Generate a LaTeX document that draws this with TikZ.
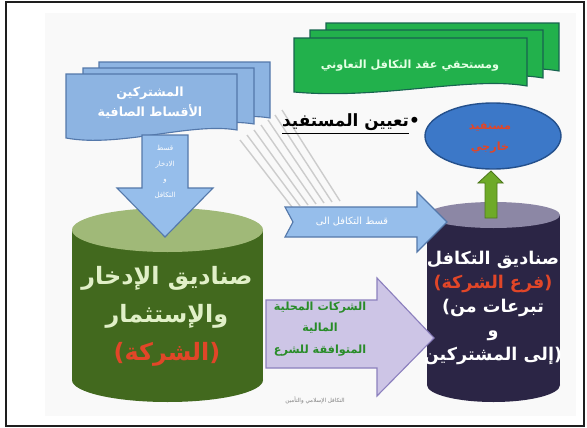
\documentclass[tikz,border=0pt]{standalone}
\usepackage{fontspec}
\setmainfont{DejaVu Sans}
\newfontfamily\arabicfont[Script=Arabic]{DejaVu Sans}
\TeXXeTstate=1
\definecolor{framegray}{RGB}{30,30,30}
\definecolor{paper}{RGB}{249,249,249}
\definecolor{bngreen}{RGB}{34,177,76}
\definecolor{bngreenedge}{RGB}{24,100,80}
\definecolor{bnblue}{RGB}{141,180,226}
\definecolor{bnblueedge}{RGB}{84,120,170}
\definecolor{arrblue}{RGB}{150,190,235}
\definecolor{cylgreen}{RGB}{66,105,30}
\definecolor{cylgreentop}{RGB}{160,185,120}
\definecolor{cylgreentext}{RGB}{225,240,200}
\definecolor{cylnavy}{RGB}{43,37,69}
\definecolor{cylnavytop}{RGB}{140,135,165}
\definecolor{arrpurple}{RGB}{205,197,230}
\definecolor{arrpurpleedge}{RGB}{140,128,190}
\definecolor{ellblue}{RGB}{60,120,200}
\definecolor{ellblueedge}{RGB}{36,80,140}
\definecolor{upgreen}{RGB}{110,170,40}
\definecolor{txtred}{RGB}{225,70,40}
\definecolor{txtgreen}{RGB}{40,140,40}
\usetikzlibrary{arrows.meta,positioning}
\newcommand{\ar}[1]{\hbox{\beginR#1\endR}}

\begin{document}
\begin{tikzpicture}[x=0.025cm,y=-0.025cm,
  artext/.style={align=center,inner sep=0pt},
  hatch/.style={draw=gray!40,line width=1pt}]
  \useasboundingbox (0,0) rectangle (587,428);

  %% Paper and frame
  \fill[paper] (45,13) rectangle (576,416);
  \draw[line width=1.2pt,framegray] (6,2) rectangle (584,426);

  %% Stripes from the premium sheets down to the arrow
  \foreach \k in {0,...,6}
    \draw[hatch] (240+7*\k,140-5*\k) -- (292+8*\k,207-\k);

  %% Premium sheets (three, stacked)
  \foreach \dx/\dy in {33/-12,17/-6,0/0}
    \filldraw[fill=bnblue,draw=bnblueedge,line width=0.8pt,shift={(\dx,\dy)}]
      (66,74) -- (237,74) -- (237,130) .. controls (190,122) and (120,148) .. (66,138) -- cycle;
  \node[artext,font=\arabicfont\bfseries\fontsize{9}{14}\selectfont,text=white]
    (prem) at (150,103) {\ar{المشتركين}\\\ar{الأقساط الصافية}};

  %% Savings fund (green cylinder)
  \fill[cylgreen] (72,230) rectangle (263,380);
  \fill[cylgreen] (167.5,380) ellipse[x radius=95.5,y radius=22];
  \fill[cylgreentop] (167.5,230) ellipse[x radius=95.5,y radius=22];
  \node[artext,font=\arabicfont\bfseries\fontsize{17}{27}\selectfont,text=cylgreentext]
    (save) at (167,316) {\ar{صناديق الإدخار}\\\ar{والإستثمار}\\\textcolor{txtred}{\ar{(الشركة)}}};

  %% Down arrow into the savings fund
  \filldraw[fill=arrblue,draw=bnblueedge,line width=0.8pt]
    (142,135) -- (188,135) -- (188,188) -- (213,188) -- (165,237) -- (117,188) -- (142,188) -- cycle;
  \node[artext,font=\arabicfont\fontsize{5}{11}\selectfont,text=white]
    (down) at (165,172) {\ar{قسط}\\\ar{الادخار}\\\ar{و}\\\ar{التكافل}};

  %% Takaful fund (dark cylinder)
  \fill[cylnavy] (427,215) rectangle (560,385);
  \fill[cylnavy] (493.5,385) ellipse[x radius=66.5,y radius=17];
  \fill[cylnavytop] (493.5,215) ellipse[x radius=66.5,y radius=13];
  \node[artext,font=\arabicfont\bfseries\fontsize{12.5}{17}\selectfont,text=white]
    (takaful) at (493,308) {\ar{صناديق التكافل}\\\textcolor{txtred}{\ar{(فرع الشركة)}}\\
      {\rmfamily(}\ar{تبرعات من}\\\ar{و}\\\ar{إلى المشتركين}{\rmfamily)}};

  %% Arrow to the takaful fund
  \filldraw[fill=arrblue,draw=bnblueedge,line width=0.8pt]
    (285,207) -- (417,207) -- (417,192) -- (447,222) -- (417,252) -- (417,237) -- (285,237) -- (293,222) -- cycle;
  \node[artext,font=\arabicfont\fontsize{7}{9}\selectfont,text=white]
    (share) at (352,222) {\ar{قسط التكافل الى}};

  %% Up arrow and beneficiary
  \filldraw[fill=upgreen,draw=upgreen!70!black,line width=0.6pt]
    (485,218) -- (485,183) -- (478,183) -- (491,171) -- (503,183) -- (497,183) -- (497,218) -- cycle;
  \filldraw[fill=ellblue,draw=ellblueedge,line width=1pt] (493,136) ellipse[x radius=68,y radius=33];
  \node[artext,font=\arabicfont\bfseries\fontsize{8}{15}\selectfont,text=txtred]
    (benef) at (490,138) {\ar{مستفيد}\\\ar{خارجي}};
  \node[artext,font=\arabicfont\bfseries\fontsize{12}{14}\selectfont]
    (assign) at (351,124) {\underline{\ar{تعيين المستفيد}}•};

  %% Investment arrow
  \filldraw[fill=arrpurple,draw=arrpurpleedge,line width=0.8pt]
    (266,300) -- (377,300) -- (377,278) -- (434,338) -- (377,396) -- (377,368) -- (266,368) -- cycle;
  \node[artext,font=\arabicfont\bfseries\fontsize{8}{15.5}\selectfont,text=txtgreen]
    (invest) at (320,329) {\ar{الشركات المحلية}\\\ar{المالية}\\\ar{المتوافقة للشرع}};
  \node[artext,font=\arabicfont\fontsize{4}{5}\selectfont,text=gray]
    (foot) at (315,400) {\ar{التكافل الإسلامي والتأمين}};

  %% Contract banner (three, stacked)
  \foreach \dx/\dy in {32/-15,16/-8,0/0}
    \filldraw[fill=bngreen,draw=bngreenedge,line width=0.8pt,shift={(\dx,\dy)}]
      (294,38) -- (527,38) -- (527,86) .. controls (470,76) and (380,100) .. (294,92) -- cycle;
  \node[artext,font=\arabicfont\bfseries\fontsize{8}{10}\selectfont,text=white!90!green]
    (contract) at (410,66) {\ar{ومستحقي عقد التكافل التعاوني}};
\end{tikzpicture}
\end{document}
